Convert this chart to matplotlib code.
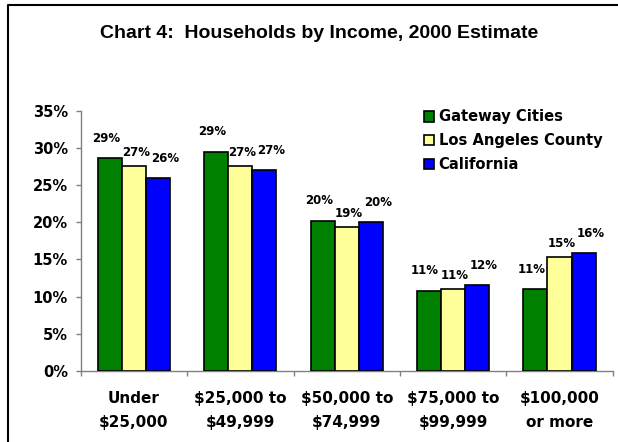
import matplotlib
matplotlib.use("Agg")
import matplotlib.pyplot as plt
from matplotlib.lines import Line2D
from matplotlib.ticker import FixedLocator, FuncFormatter
import numpy as np

categories = ["Under\n$25,000", "$25,000 to\n$49,999", "$50,000 to\n$74,999",
              "$75,000 to\n$99,999", "$100,000\nor more"]
series_names = ["Gateway Cities", "Los Angeles County", "California"]
gateway = [28.6, 29.5, 20.2, 10.8, 11.0]
la_county = [27.5, 27.5, 19.3, 11.0, 15.3]
california = [25.9, 27.0, 20.0, 11.5, 15.8]
labels_gateway = ["29%", "29%", "20%", "11%", "11%"]
labels_la = ["27%", "27%", "19%", "11%", "15%"]
labels_ca = ["26%", "27%", "20%", "12%", "16%"]
yticks = [0, 5, 10, 15, 20, 25, 30, 35]
title = "Chart 4:  Households by Income, 2000 Estimate"

W, H = 618, 442
fig = plt.figure(figsize=(W / 100, H / 100), dpi=100)
fig.patch.set_facecolor("white")

left, right, top, bottom = 80.7, 612.7, 110.7, 371.0
ax = fig.add_axes([left / W, 1 - bottom / H, (right - left) / W, (bottom - top) / H])

colors = ["#008000", "#FFFF99", "#0000FF"]
data = [gateway, la_county, california]
labels = [labels_gateway, labels_la, labels_ca]
width = 0.226
x = np.arange(len(categories))
label_dx = [-4, 2, 7]
label_dy = [20, 14, 20]

handles = []
for i, (vals, col, labs) in enumerate(zip(data, colors, labels)):
    bars = ax.bar(x + (i - 1) * width, vals, width, color=col, edgecolor="black",
                  linewidth=1.2, label=series_names[i], zorder=3)
    handles.append(bars)
    for xi, v, lab in zip(x + (i - 1) * width, vals, labs):
        ax.annotate(lab, (xi, v), xytext=(label_dx[i], label_dy[i]),
                    textcoords="offset pixels", ha="center", va="center",
                    fontsize=8.5, fontweight="bold", family="DejaVu Sans")

ax.set_xlim(-0.5, len(categories) - 0.5)
ax.set_ylim(0, 35)
ax.yaxis.set_major_locator(FixedLocator(yticks))
ax.yaxis.set_major_formatter(FuncFormatter(lambda v, p: f"{int(v)}%"))
ax.set_xticks(x)
ax.set_xticklabels(categories, fontsize=11, fontweight="bold",
                   family="DejaVu Sans", linespacing=1.75)
ax.xaxis.set_minor_locator(FixedLocator(np.arange(-0.5, len(categories), 1.0)))
ax.tick_params(axis="x", which="major", length=0, pad=14.5)
ax.tick_params(axis="x", which="minor", length=3.6, color="#808080", width=1,
               direction="out")
ax.tick_params(axis="y", length=3.6, color="#808080", width=1, direction="out",
               pad=5.5)
for lab in ax.get_yticklabels():
    lab.set_fontsize(10.5)
    lab.set_fontweight("bold")
    lab.set_family("DejaVu Sans")

for s in ["top", "right"]:
    ax.spines[s].set_visible(False)
for s in ["left", "bottom"]:
    ax.spines[s].set_color("#808080")
    ax.spines[s].set_linewidth(1)

leg = ax.legend(handles=handles, labels=series_names, loc="upper left",
                bbox_to_anchor=(424 / W, 1 - 109.5 / H), bbox_transform=fig.transFigure,
                frameon=False, borderpad=0, borderaxespad=0,
                handlelength=0.7, handleheight=0.7, handletextpad=0.3,
                labelspacing=0.6,
                prop={"family": "DejaVu Sans", "weight": "bold", "size": 10.6})

fig.text(319 / W, 1 - 33.5 / H, title, ha="center", va="center",
         fontsize=14, fontweight="bold",
         family=["Liberation Sans Narrow", "Liberation Sans"])

# outer frame
fig.add_artist(Line2D([7.5 / W, 7.5 / W, 1.0], [0.0, 1 - 5 / H, 1 - 5 / H],
                      transform=fig.transFigure, color="black", linewidth=1.5))

fig.savefig("out.png", dpi=100, facecolor="white")
